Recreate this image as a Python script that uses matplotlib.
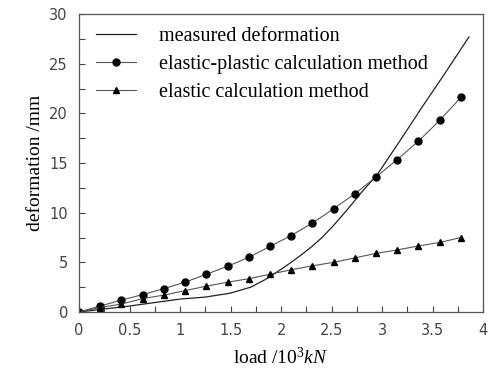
import matplotlib
matplotlib.use("Agg")
import matplotlib.pyplot as plt
from matplotlib.ticker import MultipleLocator

# load in 10^3 kN
load_calc = [0, 0.21, 0.42, 0.63, 0.84, 1.05, 1.26, 1.47, 1.68, 1.89,
             2.10, 2.31, 2.52, 2.73, 2.94, 3.15, 3.36, 3.57, 3.78]
elastic_plastic = [0, 0.6, 1.2, 1.75, 2.35, 3.0, 3.8, 4.6, 5.5, 6.6,
                   7.7, 8.95, 10.4, 11.9, 13.6, 15.35, 17.2, 19.3, 21.6]
elastic = [0, 0.45, 0.8, 1.35, 1.7, 2.15, 2.6, 3.0, 3.35, 3.8,
           4.25, 4.65, 5.0, 5.45, 5.9, 6.25, 6.65, 7.0, 7.5]

load_meas = [0, 0.25, 0.5, 0.75, 1.0, 1.25, 1.5, 1.7, 1.85, 2.0,
             2.1, 2.2, 2.3, 2.4, 2.5, 2.6, 2.7, 2.8, 2.95, 3.2, 3.4, 3.6, 3.86]
measured = [0, 0.3, 0.6, 0.95, 1.3, 1.5, 1.9, 2.5, 3.3, 4.3,
            5.0, 5.75, 6.55, 7.45, 8.5, 9.65, 10.85, 12.1, 13.8, 17.6, 20.7, 23.7, 27.7]

serif = ['Liberation Serif', 'DejaVu Serif']
plt.rcParams['mathtext.fontset'] = 'custom'
plt.rcParams['mathtext.rm'] = 'Liberation Serif'
plt.rcParams['mathtext.it'] = 'Liberation Serif:italic'

fig = plt.figure(figsize=(4.94, 3.8), dpi=100)
ax = fig.add_axes([0.160, 0.179, 0.818, 0.784])

ax.plot(load_meas, measured, color='#222222', lw=0.9, label='measured deformation')
ax.plot(load_calc, elastic_plastic, color='#555555', lw=0.8, marker='o',
        markersize=5, markerfacecolor='black', markeredgecolor='black',
        label='elastic-plastic calculation method')
ax.plot(load_calc, elastic, color='#555555', lw=0.8, marker='^',
        markersize=5, markerfacecolor='black', markeredgecolor='black',
        label='elastic calculation method')

ax.set_xlim(0, 4)
ax.set_ylim(0, 30)
ax.xaxis.set_major_locator(MultipleLocator(0.5))
ax.xaxis.set_minor_locator(MultipleLocator(0.25))
ax.yaxis.set_major_locator(MultipleLocator(5))
ax.yaxis.set_minor_locator(MultipleLocator(2.5))
ax.set_xticklabels([f'{v:g}' for v in ax.get_xticks()])
ax.tick_params(which='both', direction='in', length=4, width=0.8,
               color='#444444', labelcolor='#444444', labelsize=10.5, pad=8)
ax.tick_params(which='minor', length=4)
for s in ax.spines.values():
    s.set_color('#555555')
    s.set_linewidth(0.9)

ax.set_xlabel(r'load /10$^3$$\it{kN}$', family=serif, fontsize=14, labelpad=6)
ax.set_ylabel('deformation /mm', family=serif, fontsize=14, labelpad=4)

ax.legend(loc='upper left', frameon=False, prop={'family': serif, 'size': 14.5},
          handlelength=2.0, handletextpad=1.15, labelspacing=0.45,
          borderaxespad=0.0, bbox_to_anchor=(0.022, 0.985))

fig.savefig('out.png', dpi=100)
